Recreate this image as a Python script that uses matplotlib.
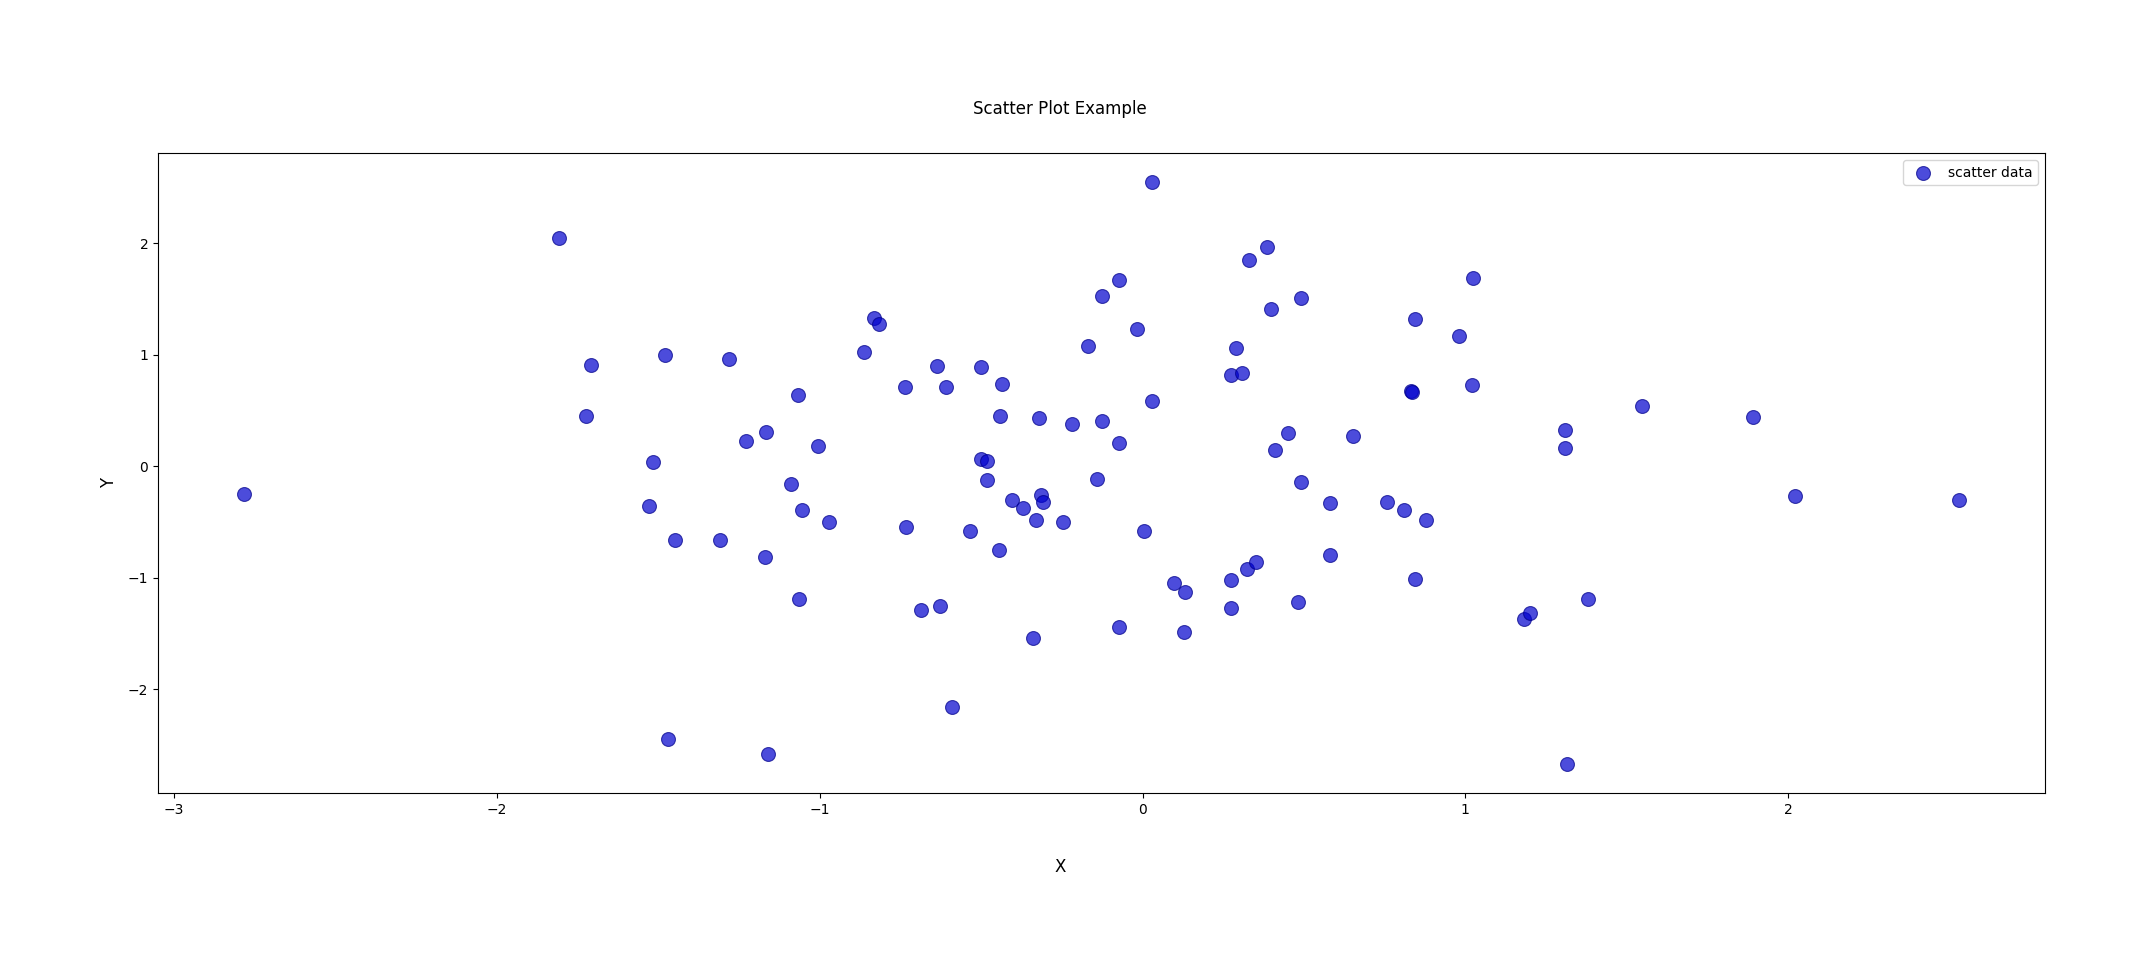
import matplotlib
matplotlib.use("Agg")
import matplotlib.pyplot as plt

x_values = [
    -2.784, -1.809, -1.708, -1.725, -1.479, -1.517, -1.530, -1.449, -1.470, -1.280,
    -1.229, -1.309, -1.165, -1.169, -1.161, -1.068, -1.004, -1.089, -1.055, -0.970,
    -1.064, -0.864, -0.831, -0.818, -0.737, -0.636, -0.610, -0.733, -0.686, -0.627,
    -0.589, -0.500, -0.436, -0.441, -0.500, -0.483, -0.483, -0.534, -0.403, -0.369,
    -0.445, -0.322, -0.314, -0.309, -0.331, -0.246, -0.339, -0.220, -0.169, -0.127,
    -0.072, -0.127, -0.072, -0.140, -0.072, -0.017, 0.030, 0.030, 0.004, 0.097,
    0.131, 0.127, 0.275, 0.288, 0.309, 0.331, 0.386, 0.398, 0.411, 0.449,
    0.492, 0.492, 0.275, 0.275, 0.322, 0.352, 0.483, 0.581, 0.581, 0.653,
    0.758, 0.809, 0.831, 0.835, 0.843, 0.877, 0.843, 0.979, 1.025, 1.021,
    1.309, 1.309, 1.182, 1.199, 1.381, 1.314, 1.547, 1.890, 2.021, 2.530,
]
y_values = [
    -0.246, 2.05, 0.91, 0.455, 1.00, 0.04, -0.36, -0.66, -2.45, 0.96,
    0.23, -0.66, 0.31, -0.81, -2.58, 0.64, 0.18, -0.16, -0.39, -0.50,
    -1.19, 1.03, 1.33, 1.28, 0.71, 0.90, 0.71, -0.54, -1.29, -1.25,
    -2.16, 0.89, 0.74, 0.455, 0.07, 0.05, -0.12, -0.58, -0.30, -0.37,
    -0.75, 0.43, -0.26, -0.32, -0.48, -0.50, -1.54, 0.38, 1.08, 1.53,
    1.67, 0.41, 0.21, -0.11, -1.44, 1.23, 2.55, 0.59, -0.58, -1.05,
    -1.13, -1.49, 0.82, 1.06, 0.84, 1.85, 1.97, 1.41, 0.15, 0.30,
    1.51, -0.14, -1.02, -1.27, -0.92, -0.86, -1.22, -0.33, -0.80, 0.27,
    -0.32, -0.39, 0.68, 0.67, 1.32, -0.48, -1.01, 1.17, 1.69, 0.73,
    0.33, 0.16, -1.37, -1.32, -1.19, -2.67, 0.54, 0.44, -0.27, -0.30,
]

series_label = "scatter data"
title_text = "Scatter Plot Example"
x_label = "X"
y_label = "Y"

fig = plt.figure(figsize=(21.45, 9.76), dpi=100)
ax = fig.add_axes([0.0737, 0.1875, 0.8797, 0.6557])
ax.scatter(x_values, y_values, s=100, c="mediumblue", alpha=0.7,
           edgecolors="darkblue", linewidths=0.8, label=series_label)
ax.set_title(title_text, fontsize=12, pad=28, x=0.478)
ax.set_xlabel(x_label, fontsize=12, labelpad=30)
ax.xaxis.label.set_x(0.478)
ax.set_ylabel(y_label, fontsize=12, labelpad=7)
ax.yaxis.label.set_y(0.484)
ax.legend(loc="upper right", fontsize=10)
fig.savefig("out.png", dpi=100)
